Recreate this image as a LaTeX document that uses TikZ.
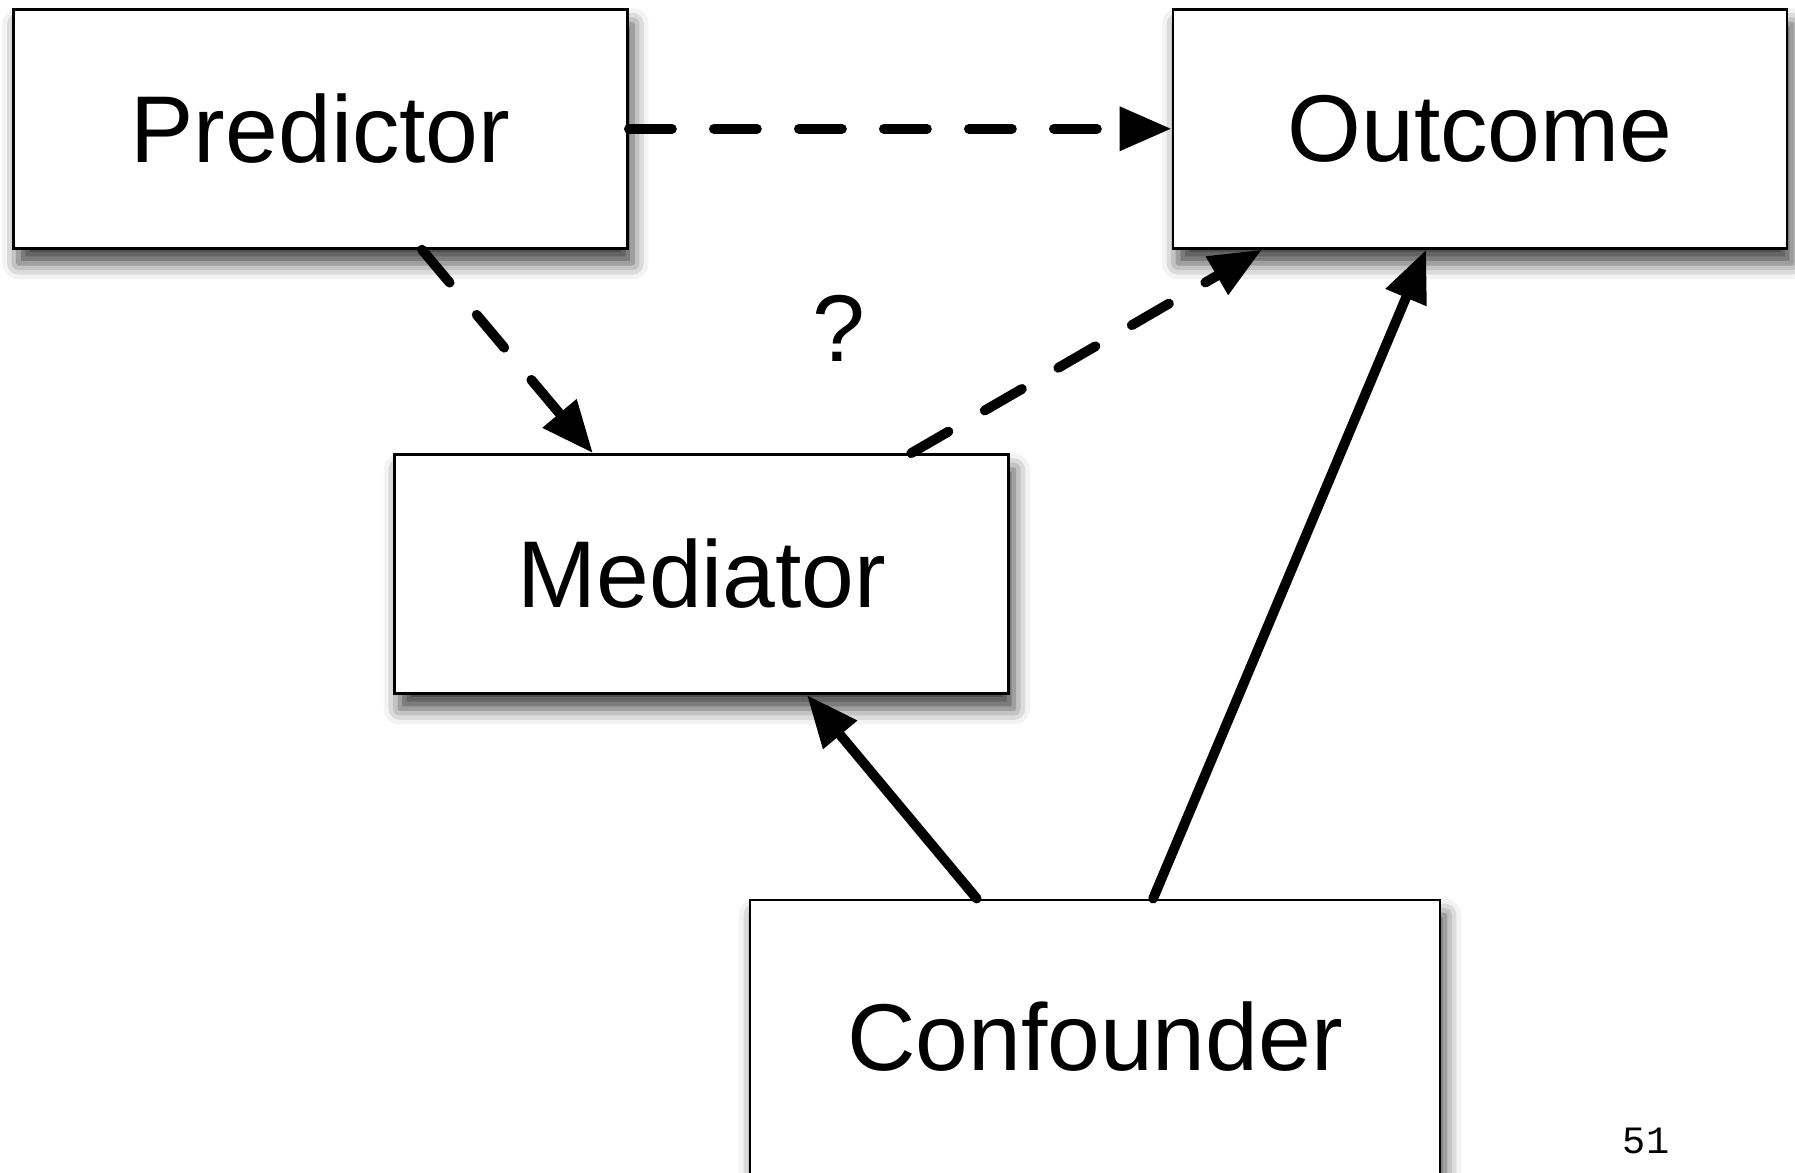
\documentclass[tikz,border=0pt]{standalone}
\usepackage{fontspec}
\setmainfont{Liberation Sans}
\newfontfamily\pagenumfont{Liberation Mono}
\usetikzlibrary{arrows.meta,shadows.blur}

\begin{document}
\begin{tikzpicture}[x=1cm,y=1cm,
    factor/.style={draw,line width=0.8pt,fill=white,inner sep=0pt,
        minimum width=6.14cm,minimum height=2.39cm,
        font=\fontsize{27}{32}\selectfont,
        blur shadow={shadow xshift=0.5mm,shadow yshift=-1.5mm,
            shadow blur radius=1.6mm,shadow opacity=75}},
    effect/.style={line width=2.8pt,line cap=round,
        -{Triangle[length=5.2mm,width=4.2mm]}},
    maybe/.style={effect,dash pattern=on 4.3mm off 4.2mm}]
    \useasboundingbox (0,0) rectangle (17.95,11.73);

    \node[factor] (pred) at (3.205,10.442) {Predictor};
    \node[factor] (out) at (14.80,10.442) {Outcome};
    \node[factor] (med) at (7.018,5.989) {Mediator};
    \node[factor,minimum width=6.90cm,minimum height=3.0cm,text depth=0.28cm]
        (conf) at (10.95,1.23) {Confounder};

    \draw[maybe] (pred) -- (out);
    \draw[maybe] (pred.-50) -- (med.132);
    \draw[maybe] (med.30) -- (out.-151);
    \draw[effect] (conf.128) -- (med.-49);
    \draw[effect] (conf.69) -- (out.-114);

    \node[font=\fontsize{27}{32}\selectfont] (query) at (8.39,8.444) {?};
    \node[font=\pagenumfont\fontsize{11}{13}\selectfont] (page) at (16.46,0.32) {51};
\end{tikzpicture}
\end{document}
